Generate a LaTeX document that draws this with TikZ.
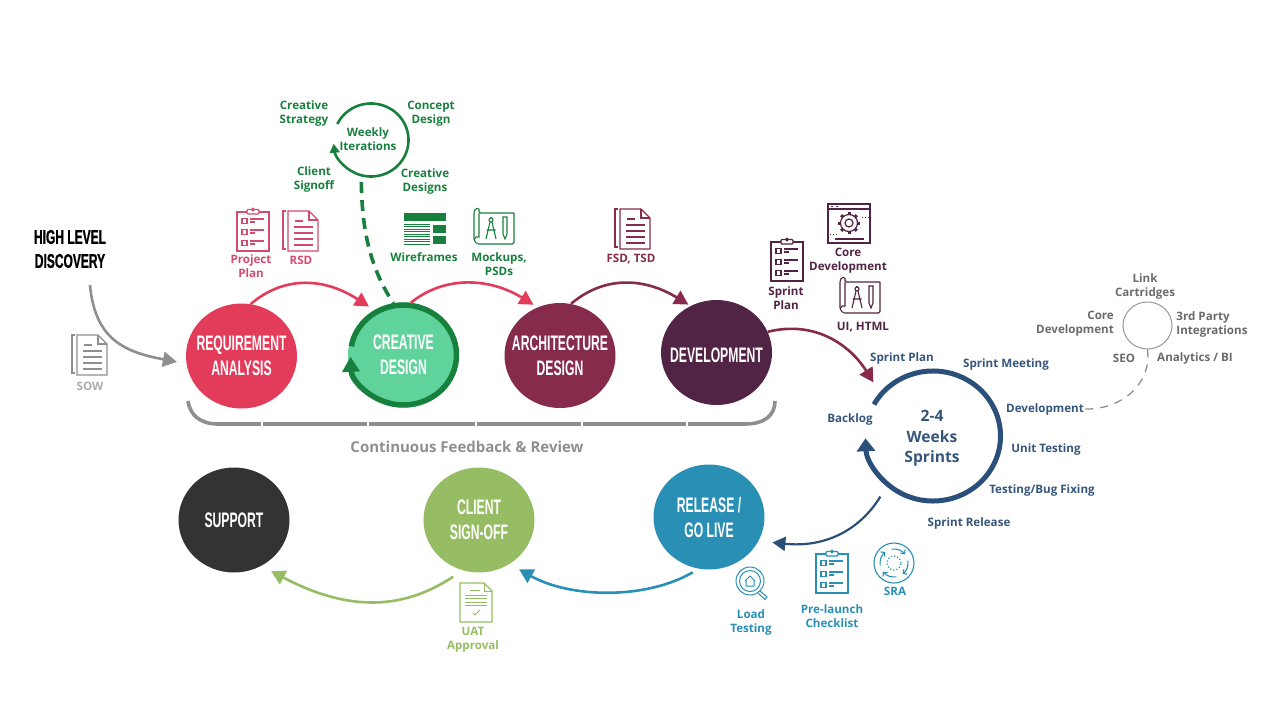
\documentclass[tikz,border=0pt]{standalone}
\usepackage{fontspec}
\usepackage{xcolor}
\usetikzlibrary{arrows.meta, shapes.geometric, calc}
\setmainfont{Open Sans}
\newfontfamily\bebasfont{Liberation Sans}[FakeStretch=0.58]
\newfontfamily\headfont{Liberation Sans}[FakeStretch=0.6,FakeBold=0.8]
\definecolor{kgray}{HTML}{8F8F8F}
\definecolor{klight}{HTML}{ABABAB}
\definecolor{klink}{HTML}{6A6A6A}
\definecolor{kred}{HTML}{E33B5A}
\definecolor{kpink}{HTML}{D24A6E}
\definecolor{kmint}{HTML}{5FD39B}
\definecolor{kgreen}{HTML}{17803C}
\definecolor{kwine}{HTML}{862B4C}
\definecolor{kplum}{HTML}{512344}
\definecolor{knavy}{HTML}{2A4F78}
\definecolor{ksprint}{HTML}{35557A}
\definecolor{kteal}{HTML}{2A8FB4}
\definecolor{kolive}{HTML}{96BD63}
\definecolor{kdark}{HTML}{333333}
\tikzset{
  stagecirc/.style={ellipse, minimum width=111pt, minimum height=105pt, inner sep=-16pt,
    align=center, text=white, font=\bebasfont\bfseries\fontsize{21}{25}\selectfont},
  lab/.style={align=center, inner sep=0pt, font=\bfseries\fontsize{11.6}{14}\selectfont},
  flow/.style={line width=2.6pt, -{Triangle[length=14pt,width=15pt]}},
  pics/docback/.style={code={
    \draw[line width=1.1pt] (3,0) -- (0,0) -- (0,38) -- (3,38);
  }},
  pics/docpage/.style={code={
    \draw[line width=1.1pt, fill=white] (3,2) -- (24,2) -- (33,11) -- (33,42) -- (3,42) -- cycle;
    \draw[line width=1.1pt] (24,2) -- (24,11) -- (33,11);
    \draw[line width=1.1pt] (10,12) -- (18,12);
    \foreach \ly in {18,24,30,36} \draw[line width=1.1pt] (9,\ly) -- (28,\ly);
  }},
  pics/clipboard/.style={code={
    \draw[line width=1.2pt] (0,5) rectangle (32,44);
    \draw[line width=1.2pt, fill=white, rounded corners=1pt] (10,2.5) rectangle (22,7);
    \draw[line width=1pt] (16,2.5) circle (1.5pt);
    \foreach \ly in {14,25,36} {
      \draw[line width=1.1pt] (5,\ly-2.5) rectangle (10,\ly+2.5);
      \draw[line width=1.1pt] (13,\ly-2) -- (27,\ly-2);
      \draw[line width=1.1pt] (13,\ly+1) -- (18,\ly+1);
    }
  }},
  pics/blueprint/.style={code={
    \draw[line width=1.1pt, rounded corners=1.5pt] (40,5) -- (5,5) -- (5,0) -- (1,1) -- (0,4) -- (0,32) -- (3,36) -- (40,36) -- (40,5);
    \draw[line width=1.1pt] (0,32) -- (2,29) -- (5,29) -- (5,5);
    \draw[line width=1.1pt] (17,12) circle (2pt);
    \draw[line width=1.1pt] (17,9) -- (17,10);
    \draw[line width=1.1pt] (16,14) -- (12,31) (18,14) -- (22,31) (12.5,22) -- (21.5,22);
    \draw[line width=1.1pt] (29,9) -- (33,9) -- (33,26) -- (31,31) -- (29,26) -- cycle;
  }},
  pics/gearwin/.style={code={
    \draw[line width=1.2pt] (0,0) rectangle (42,39);
    \draw[line width=1.2pt] (0,5) -- (42,5);
    \draw[line width=1.2pt] (3,2.5) -- (5,2.5) (8,2.5) -- (10,2.5);
    \draw[line width=1.2pt] (21,19) circle (4pt);
    \draw[line width=1.2pt] (21,19) circle (8.5pt);
    \foreach \ang in {0,45,...,315} \draw[line width=3pt] (21,19) ++(\ang:8.5pt) -- ++(\ang:2.5pt);
    \draw[line width=1.2pt] (7,35) -- (36,35);
    \draw[line width=1pt, dotted] (34,13) -- (41,13) (2,30) -- (9,30);
  }},
  pics/wireframe/.style={code={
    \fill (0,0) rectangle (42,8);
    \fill (29,12) rectangle (42,20);
    \fill (29,23) rectangle (42,31);
    \foreach \ly in {11,13.5,...,31} \draw[line width=0.8pt] (0,\ly) -- (26,\ly);
  }},
  pics/uatpage/.style={code={
    \draw[line width=1.2pt] (0,0) -- (24,0) -- (32,8) -- (32,39) -- (0,39) -- cycle;
    \draw[line width=1pt] (24,0) -- (24,8) -- (32,8);
    \draw[line width=1pt] (10,7) -- (20,7);
    \foreach \ly in {12,15.5,19,22.5} \draw[line width=1pt] (5,\ly) -- (27,\ly);
    \draw[line width=1pt] (13,30) -- (15,32) -- (20,27);
  }},
  pics/loupe/.style={code={
    \draw[line width=1pt] (14,14) circle (14pt);
    \draw[line width=1pt] (14,14) circle (10.5pt);
    \draw[line width=1pt] (9,14) -- (14,9) -- (19,14) (10,13) -- (10,19) -- (18,19) -- (18,13);
    \draw[line width=1pt] (24,24) -- (31,30) -- (29,32.5) -- (22,26);
  }},
  pics/sracycle/.style={code={
    \draw[line width=1.1pt] (21,20) circle (20pt);
    \foreach \ang in {10,100,190,280}
      \draw[line width=1.1pt, -{Straight Barb[length=3pt,width=6pt]}] (21,20) ++(\ang:14pt) arc[start angle=\ang, end angle=\ang-62, radius=14pt];
    \draw[line width=1.2pt, dotted] (21,20) circle (7pt);
  }}
}
\begin{document}
\begin{tikzpicture}[x=1pt, y=-1pt]
\useasboundingbox (0,0) rectangle (1280,720);
% stages
\node[stagecirc, fill=kred] (req) at (241.5,356) {REQUIREMENT\\ANALYSIS};
\node[stagecirc, fill=kmint] (creative) at (403.5,355) {CREATIVE\\DESIGN};
\node[stagecirc, fill=kwine] (arch) at (560,355.5) {ARCHITECTURE\\DESIGN};
\node[stagecirc, fill=kplum, text height=21pt] (dev) at (716.5,352.5) {DEVELOPMENT};
\node[stagecirc, fill=kdark] (support) at (234,520) {SUPPORT};
\node[stagecirc, fill=kolive] (client) at (479,520) {CLIENT\\SIGN-OFF};
\node[stagecirc, fill=kteal] (release) at (709,517) {RELEASE /\\GO LIVE};
\node[ellipse, minimum size=160pt, inner sep=0pt] (sprints) at (933,436) {};
\node[align=center, inner sep=0pt, text=ksprint, font=\bfseries\fontsize{15.6}{20.5}\selectfont] (sprintstxt) at (932,438.5) {2-4\\Weeks\\Sprints};
\node[ellipse, minimum size=86pt, inner sep=0pt] (weekly) at (371,140) {};
\node[lab, text=kgreen] (weeklytxt) at (368,139) {Weekly\\Iterations};
\node[ellipse, draw=klink!70, line width=1pt, minimum width=49pt, minimum height=47pt, inner sep=0pt] (linkcirc) at (1147.5,325.5) {};
% loops
\draw[kgreen, line width=5.5pt, -{Triangle[length=15pt,width=17pt]}]
  (creative) ++(170:53pt and 50pt) arc[start angle=170, end angle=-178, x radius=53pt, y radius=50pt];
\draw[knavy, line width=5pt, -{Triangle[length=13pt,width=18pt]}]
  (sprints) ++(151:67.5pt and 65pt) arc[start angle=151, end angle=-178, x radius=67.5pt, y radius=65pt];
\draw[kgreen, line width=2.6pt, -{Triangle[length=9pt,width=10pt]}]
  (weekly) ++(154:37.5pt and 36.5pt) arc[start angle=154, end angle=-174, x radius=37.5pt, y radius=36.5pt];
% heading
\node[align=center, inner sep=0pt, font=\headfont\bfseries\fontsize{20}{24}\selectfont] (discovery) at (70,249) {HIGH LEVEL\\DISCOVERY};
\coordinate (discend) at (90,285);
% connectors
\draw[flow, kgray] (discend) .. controls (95,340) and (125,352) .. ($(req.183)+(-9,3)$);
\draw[flow, kred] (req.80) .. controls (285,275) and (325,278) .. ($(creative.126)+(-3,-5)$);
\draw[flow, kred] (creative.82) .. controls (445,275) and (490,278) .. ($(arch.121)+(1,-5)$);
\draw[flow, kwine] (arch.78) .. controls (605,275) and (645,278) .. ($(dev.123)+(1,-3)$);
\draw[flow, kwine] (dev.22) .. controls (815,320) and (850,345) .. (sprints.138);
\draw[knavy, line width=2.2pt, -{Triangle[length=13pt,width=14pt]}] (sprints.-131) .. controls (860,530) and (825,548) .. ($(release.-24)+(13,3)$);
\draw[flow, kteal] ($(release.-108)+(0,5)$) .. controls (645,600) and (570,598) .. ($(client.-52)+(7,7)$);
\draw[flow, kolive] ($(client.-119)+(0,10)$) .. controls (400,612) and (345,610) .. ($(support.-48)+(1,11)$);
\draw[kgreen, line width=3.6pt, dash pattern=on 11pt off 7pt] (weekly.-103) .. controls (362,225) and (368,265) .. (creative.101);
\draw[klink!75, line width=1.3pt, dash pattern=on 8pt off 7pt] (linkcirc.-90) .. controls (1152,385) and (1120,410) .. (1085,409);
% feedback bracket
\draw[kgray, line width=3.6pt] (188,401) .. controls (190,415) and (200,424) .. (218,424) -- (745,424) .. controls (765,424) and (775,415) .. (775,401);
\foreach \gx in {262,368,476,582,687} \draw[white, line width=2.2pt] (\gx,420) -- (\gx,428);
\node[lab, text=kgray, font=\bfseries\fontsize{15}{16}\selectfont] (feedback) at (467,447) {Continuous Feedback \& Review};
% icons
\pic[color=kgray] at (72,335) {docback};
\pic[color=kgray] at (74,333) {docpage};
\pic[color=kpink] at (237,207) {clipboard};
\pic[color=kpink] at (283,211) {docback};
\pic[color=kpink] at (285,209) {docpage};
\pic[color=kgreen] at (404,213) {wireframe};
\pic[color=kgreen] at (474,208) {blueprint};
\pic[color=kwine] at (615,209) {docback};
\pic[color=kwine] at (617,207) {docpage};
\pic[color=kplum] at (771,237) {clipboard};
\pic[color=kplum] at (828,204) {gearwin};
\pic[color=kplum] at (840,277) {blueprint};
\pic[color=kolive] at (460,583) {uatpage};
\pic[color=kteal] at (736,567) {loupe};
\pic[color=kteal] at (816,549) {clipboard};
\pic[color=kteal] at (873,543) {sracycle};
% labels
\node[lab, text=kgreen] (stratlab) at (304,113) {Creative\\Strategy};
\node[lab, text=kgreen] (conceptlab) at (431,114) {Concept\\Design};
\node[lab, text=kgreen] (signofflab) at (314,179) {Client\\Signoff};
\node[lab, text=kgreen] (designslab) at (425,181) {Creative\\Designs};
\node[lab, text=kpink] (planlab) at (251,266) {Project\\Plan};
\node[lab, text=kpink] (rsdlab) at (301,260) {RSD};
\node[lab, text=kgreen] (wirelab) at (424,257) {Wireframes};
\node[lab, text=kgreen] (mocklab) at (499,264) {Mockups,\\PSDs};
\node[lab, text=kwine] (fsdlab) at (631,259) {FSD, TSD};
\node[lab, text=kplum] (sprintplanlab) at (786,298) {Sprint\\Plan};
\node[lab, text=kplum] (corelab) at (848,261) {Core\\Development};
\node[lab, text=kplum] (uilab) at (863,327) {UI, HTML};
\node[lab, text=klight] (sowlab) at (90,386) {SOW};
\node[lab, text=ksprint] (s1) at (902,358) {Sprint Plan};
\node[lab, text=ksprint] (s2) at (1006,364) {Sprint Meeting};
\node[lab, text=ksprint] (s3) at (1045,409) {Development};
\node[lab, text=ksprint] (s4) at (1046,449) {Unit Testing};
\node[lab, text=ksprint] (s5) at (1042,490) {Testing/Bug Fixing};
\node[lab, text=ksprint] (s6) at (969,523) {Sprint Release};
\node[lab, text=ksprint] (s7) at (850,419) {Backlog};
\node[lab, text=klink] (l1) at (1145,286) {Link\\Cartridges};
\node[lab, text=klink, align=right] (l2) at (1075,324) {Core\\Development};
\node[lab, text=klink, align=left] (l3) at (1212,324) {3rd Party\\Integrations};
\node[lab, text=klink] (l4) at (1124,358) {SEO};
\node[lab, text=klink] (l5) at (1195,358) {Analytics / BI};
\node[lab, text=kteal] (loadlab) at (751,622) {Load\\Testing};
\node[lab, text=kteal] (prelab) at (832,616) {Pre-launch\\Checklist};
\node[lab, text=kteal] (sralab) at (895,591) {SRA};
\node[lab, text=kolive] (uatlab) at (473,640) {UAT\\Approval};
\end{tikzpicture}
\end{document}
